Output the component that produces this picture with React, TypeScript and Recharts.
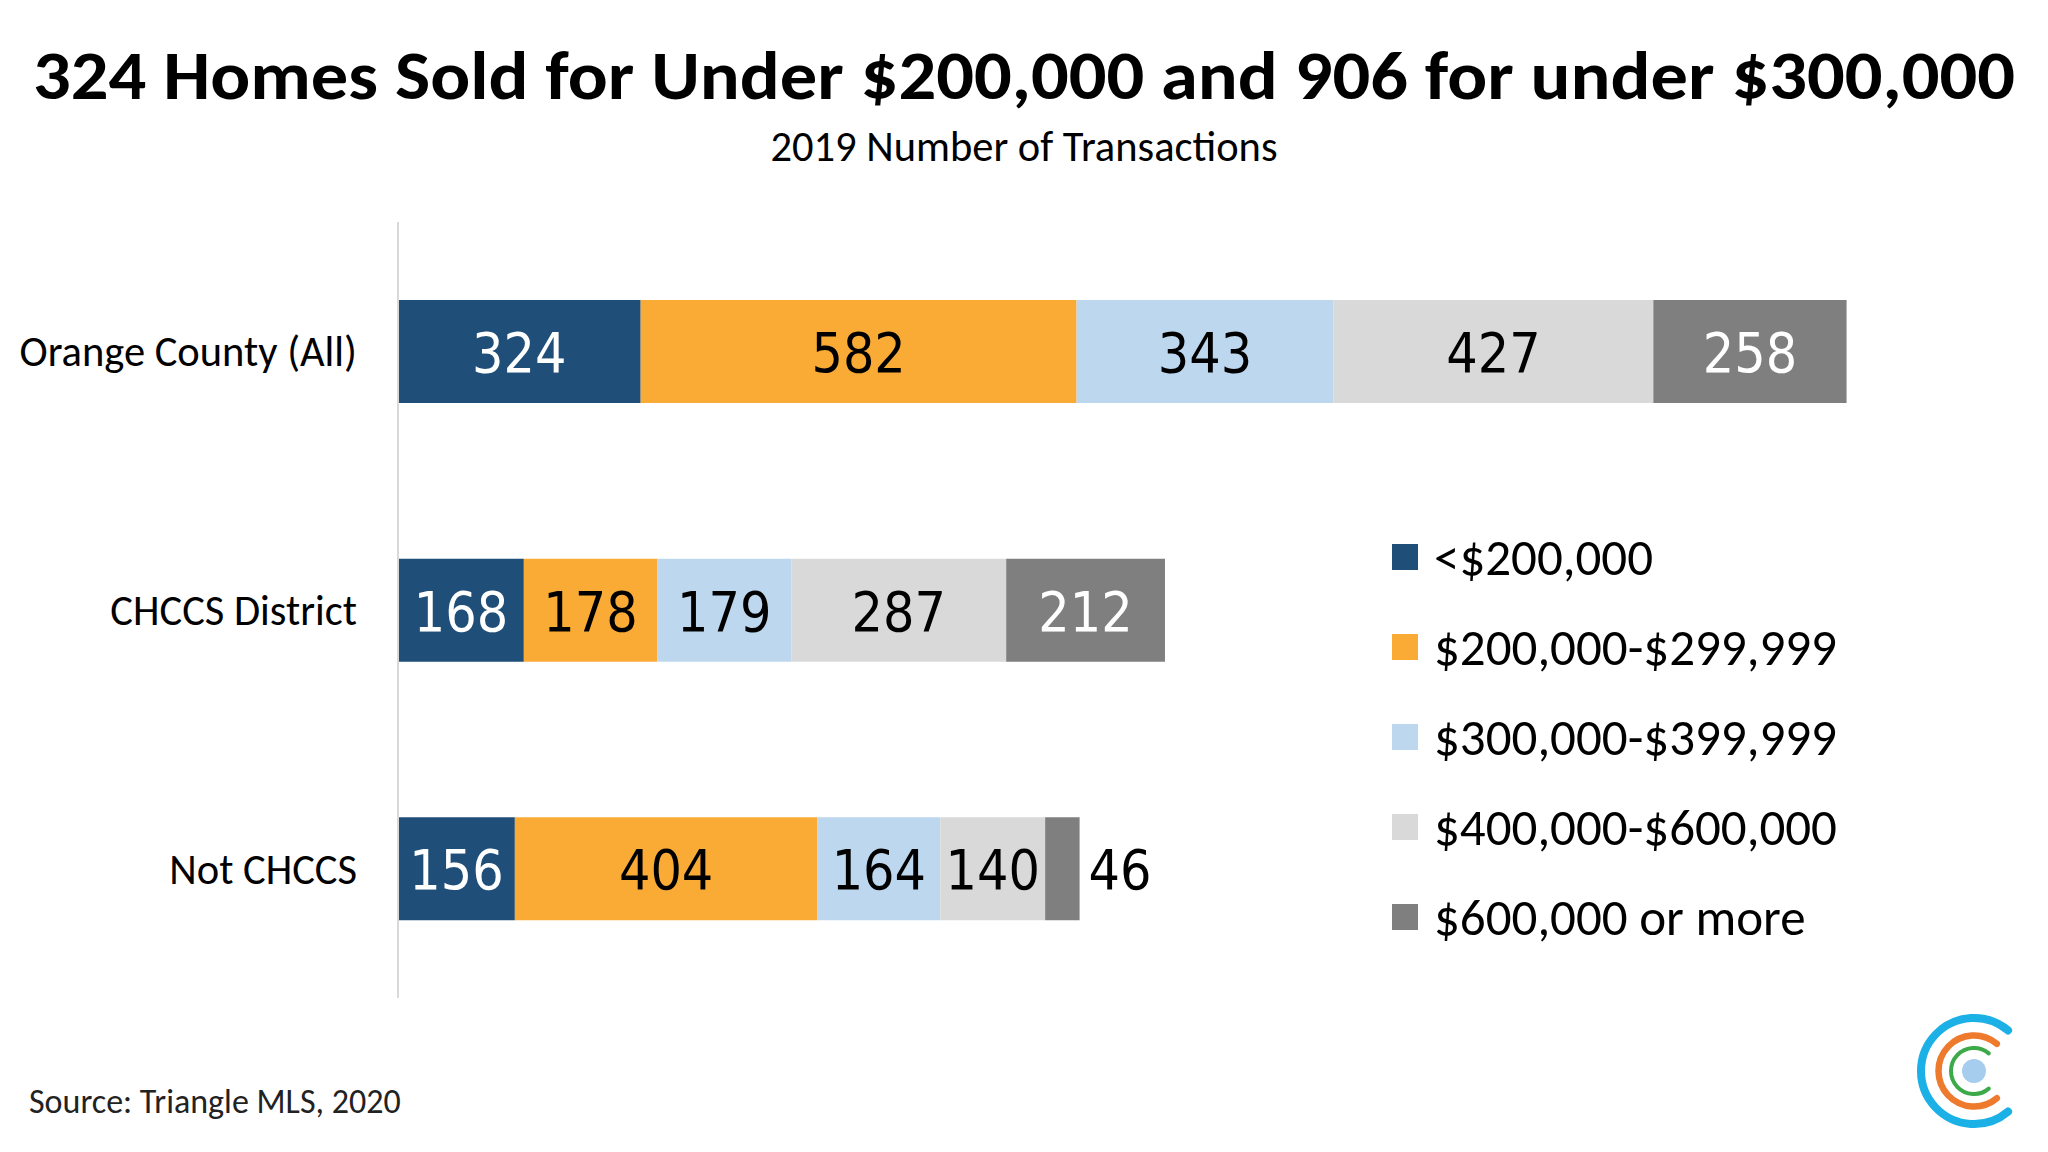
import React from 'react';
import { BarChart, Bar, XAxis, YAxis, Legend, LabelList } from 'recharts';

// 2019 number of transactions by price band
const regions = ['Orange County (All)', 'CHCCS District', 'Not CHCCS'];
const under200k = [324, 168, 156];
const from200kTo300k = [582, 178, 404];
const from300kTo400k = [343, 179, 164];
const from400kTo600k = [427, 287, 140];
const over600k = [258, 212, 46];

const seriesKeys = ['under200k', 'from200kTo300k', 'from300kTo400k', 'from400kTo600k', 'over600k'];
const seriesNames = ['<$200,000', '$200,000-$299,999', '$300,000-$399,999', '$400,000-$600,000', '$600,000 or more'];
const seriesColors = ['#1F4E79', '#FAAB36', '#BDD7EE', '#D9D9D9', '#7F7F7F'];
const labelColors = ['#FFFFFF', '#000000', '#000000', '#000000', '#FFFFFF'];

const title = '324 Homes Sold for Under $200,000 and 906 for under $300,000';
const subtitle = '2019 Number of Transactions';
const source = 'Source: Triangle MLS, 2020';

const data = regions.map((region, i) => ({
  region,
  under200k: under200k[i],
  from200kTo300k: from200kTo300k[i],
  from300kTo400k: from300kTo400k[i],
  from400kTo600k: from400kTo600k[i],
  over600k: over600k[i],
}));

const TEXT_FONT = 'Carlito, Calibri, Lato, sans-serif';
const VALUE_FONT = "'DejaVu Sans Condensed', 'DejaVu Sans', sans-serif";
const VALUE_SIZE = 55;

const makeValueLabel = (color: string) => (props: any) => {
  const { x, y, width, height, value } = props;
  const cy = Number(y) + Number(height) / 2 + VALUE_SIZE * 0.37;
  // too narrow for the number: put it just right of the bar
  if (Number(width) < 60) {
    return (
      <text x={Number(x) + Number(width) + 9} y={cy} textAnchor="start" fill="#000"
        fontFamily={VALUE_FONT} fontSize={VALUE_SIZE}>
        {value}
      </text>
    );
  }
  return (
    <text x={Number(x) + Number(width) / 2} y={cy} textAnchor="middle" fill={color}
      fontFamily={VALUE_FONT} fontSize={VALUE_SIZE}>
      {value}
    </text>
  );
};

const LegendBox = (props: any) => {
  const items = [...(props.payload || [])].sort(
    (a: any, b: any) => seriesNames.indexOf(a.value) - seriesNames.indexOf(b.value)
  );
  return (
    <div style={{ fontFamily: TEXT_FONT, fontSize: 51, color: '#000' }}>
      {items.map((item: any) => (
        <div key={item.value} style={{ display: 'flex', alignItems: 'center', height: 90 }}>
          <span style={{ width: 26, height: 26, background: item.color, marginRight: 16, display: 'inline-block', flexShrink: 0 }} />
          <span style={{ whiteSpace: 'nowrap' }}>{item.value}</span>
        </div>
      ))}
    </div>
  );
};

const Logo = () => {
  const cx = 1974;
  const cy = 1071;
  const arc = (r: number) => {
    const a = (50 * Math.PI) / 180;
    const x = cx + r * Math.cos(a);
    const dy = r * Math.sin(a);
    return `M ${x} ${cy - dy} A ${r} ${r} 0 1 0 ${x} ${cy + dy}`;
  };
  return (
    <g>
      <path d={arc(53)} fill="none" stroke="#1BB0E6" strokeWidth={8} strokeLinecap="round" />
      <path d={arc(35.5)} fill="none" stroke="#EE7A2E" strokeWidth={6.5} strokeLinecap="round" />
      <path d={arc(23)} fill="none" stroke="#3DAA4A" strokeWidth={4} strokeLinecap="round" />
      <circle cx={cx} cy={cy} r={12} fill="#A6CDEE" />
    </g>
  );
};

export default function App() {
  return (
    <div style={{ position: 'absolute', left: 0, top: 0, width: 2048, height: 1152, background: '#fff' }}>
      <BarChart
        width={2048}
        height={1152}
        data={data}
        layout="vertical"
        margin={{ top: 222, right: 152, bottom: 154, left: 0 }}
      >
        <XAxis type="number" domain={[0, 2000]} hide />
        <YAxis
          type="category"
          dataKey="region"
          width={398}
          axisLine={{ stroke: '#D9D9D9', strokeWidth: 2 }}
          tickLine={false}
          tickMargin={35}
          tick={{ fontFamily: TEXT_FONT, fontSize: 42.5, fill: '#000' }}
        />
        <Legend
          layout="vertical"
          align="center"
          verticalAlign="middle"
          content={LegendBox}
          wrapperStyle={{ left: 1392, top: 512, width: 650, height: 450 }}
        />
        {seriesKeys.map((key, i) => (
          <Bar
            key={key}
            dataKey={key}
            name={seriesNames[i]}
            stackId="price"
            fill={seriesColors[i]}
            barSize={103}
            isAnimationActive={false}
          >
            <LabelList dataKey={key} content={makeValueLabel(labelColors[i])} />
          </Bar>
        ))}
      </BarChart>
      <svg width={2048} height={1152} style={{ position: 'absolute', left: 0, top: 0, pointerEvents: 'none' }}>
        <text x={1024} y={99} textAnchor="middle" fontFamily={TEXT_FONT} fontWeight={700} fontSize={68}
          textLength={1982} lengthAdjust="spacingAndGlyphs" fill="#000">
          {title}
        </text>
        <text x={1024} y={161} textAnchor="middle" fontFamily={TEXT_FONT} fontSize={42.5} fill="#000">
          {subtitle}
        </text>
        <text x={29} y={1113} fontFamily={TEXT_FONT} fontWeight={300} fontSize={34} fill="#222">
          {source}
        </text>
        <Logo />
      </svg>
    </div>
  );
}
